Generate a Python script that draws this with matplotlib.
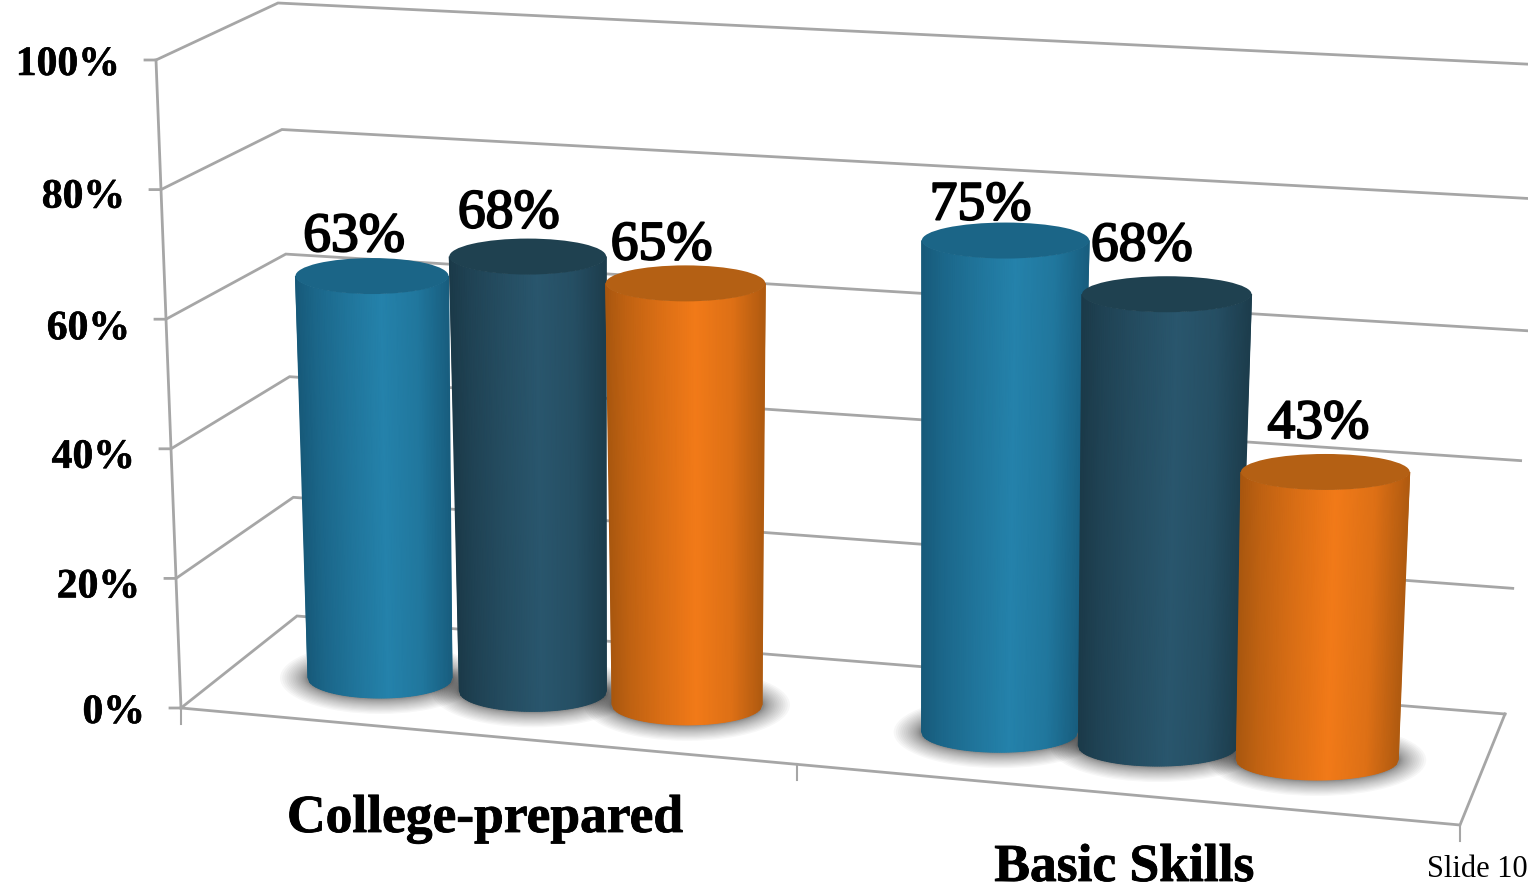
import numpy as np
import matplotlib
matplotlib.use("Agg")
import matplotlib.pyplot as plt
import matplotlib.patheffects as pe
from matplotlib.colors import LinearSegmentedColormap
from matplotlib.patches import Ellipse

categories = ["College-prepared", "Basic Skills"]
college_prepared = [63, 67.6, 65]
basic_skills = [74.6, 68, 43]
y_ticks = [0, 20, 40, 60, 80, 100]

# body highlight, body edge, cap colour for each of the three series
highlight = ["#2482AB", "#29566D", "#F27A18"]
edge = ["#175A7A", "#1B3A49", "#A9570F"]
cap = ["#1B6587", "#1F4150", "#B46014"]

GREY = "#A6A6A6"
SERIF = "Liberation Serif"

plt.rcParams["font.family"] = SERIF

# corners of the chart box in pixels, (depth, value): front is 0, back is 1
FRONT_0, FRONT_100 = (181, 709), (156, 61)
BACK_L0, BACK_L100 = (297, 617), (278, 4)
BACK_R0, BACK_R100 = (1505, 715), (1545, 66)
FRONT_R0 = (1460, 826)


def lerp(a, b, t):
    return (a[0] + (b[0] - a[0]) * t, a[1] + (b[1] - a[1]) * t)


def back_value(v):
    # the back wall is slightly squeezed towards the floor
    return v - 0.04 * v * (1 - v)


def base_x(slot):
    return 380 + 152.2 * slot + 0.67 * slot ** 2


def cylinder(x0, value):
    v = value / 100
    y0 = 679 + 0.0875 * (x0 - 380)
    r0 = 72 + 0.0095 * (x0 - 380)
    x1 = x0 + v * (-12.7 + 0.0334 * (x0 - 380))
    y1 = y0 - v * (638 + 0.034 * (x0 - 380))
    r1 = r0 * (1 + 0.1 * v)
    return x0, y0, r0, x1, y1, r1


fig = plt.figure(figsize=(15.28, 8.87), dpi=100)
ax = fig.add_axes([0, 0, 1, 1])
ax.set_xlim(0, 1528)
ax.set_ylim(887, 0)
ax.axis("off")

tick_label_dy = [5, 9, 9, 10, 8, 5]
tick_stroke = [pe.withStroke(linewidth=0.4, foreground="black")]

# walls and floor
for i, t in enumerate(y_ticks):
    v = t / 100
    front = lerp(FRONT_0, FRONT_100, v)
    back_l = lerp(BACK_L0, BACK_L100, back_value(v))
    back_r = lerp(BACK_R0, BACK_R100, back_value(v))
    ax.plot([front[0] - 11, front[0], back_l[0], back_r[0]],
            [front[1], front[1], back_l[1], back_r[1]],
            color=GREY, lw=2, solid_joinstyle="miter", zorder=1)
    ax.text(front[0] - 36, front[1] + tick_label_dy[i], f"{t}%", ha="right", va="center",
            fontsize=30, fontweight="bold", color="black", zorder=6, path_effects=tick_stroke)

ax.plot([FRONT_0[0], FRONT_100[0]], [FRONT_0[1], FRONT_100[1]], color=GREY, lw=2, zorder=1)
ax.plot([FRONT_0[0], FRONT_R0[0], BACK_R0[0]], [FRONT_0[1], FRONT_R0[1], BACK_R0[1]],
        color=GREY, lw=2, solid_joinstyle="miter", zorder=1)

# category ticks hang off the front edge, the middle one sits left of halfway (perspective)
for f in [0, 0.482, 1]:
    p = lerp(FRONT_0, FRONT_R0, f)
    ax.plot([p[0], p[0]], [p[1], p[1] + 16], color=GREY, lw=1.5, zorder=1)

groups = [college_prepared, basic_skills]
group_start = [0, 4]
label_dx = [[-18, -19, -24], [-25, -25, -7]]
label_dy = [[-39, -43, -38], [-35, -48, -48]]

# shadows go under every bar
for g, values in enumerate(groups):
    for s, value in enumerate(values):
        x0, y0, r0, x1, y1, r1 = cylinder(base_x(group_start[g] + s), value)
        for k in np.linspace(1, 0, 18) ** 1.5:
            ax.add_patch(Ellipse((x0, y0), 2 * (r0 + 2 + 26 * k), 2 * (21 + 15 * k),
                                 facecolor="black", edgecolor="none", alpha=0.032, zorder=2))

t = np.linspace(-1, 1, 91)
stops = [0, 0.12, 0.32, 0.56, 0.8, 1]
mix = [0.0, 0.3, 0.65, 1.0, 0.72, 0.1]

for g, values in enumerate(groups):
    for s, value in enumerate(values):
        x0, y0, r0, x1, y1, r1 = cylinder(base_x(group_start[g] + s), value)
        a = np.array(matplotlib.colors.to_rgb(edge[s]))
        b = np.array(matplotlib.colors.to_rgb(highlight[s]))
        cmap = LinearSegmentedColormap.from_list(
            f"bar{s}", [(p, tuple(a + (b - a) * m)) for p, m in zip(stops, mix)])
        arc = np.sqrt(1 - t ** 2)
        xx = np.vstack([x1 + r1 * t, x0 + r0 * t])
        yy = np.vstack([y1 + 18 * arc, y0 + 20 * arc])
        cc = np.vstack([(t + 1) / 2, (t + 1) / 2])
        z = 3 + (group_start[g] + s) * 0.1
        ax.pcolormesh(xx, yy, cc, cmap=cmap, shading="gouraud", vmin=0, vmax=1, zorder=z)
        ax.add_patch(Ellipse((x1, y1), 2 * r1, 36, facecolor=cap[s], edgecolor="none", zorder=z))
        ax.text(x1 + label_dx[g][s], y1 + label_dy[g][s], f"{value:.0f}%", ha="center", va="center",
                fontsize=40, color="black", zorder=7,
                path_effects=[pe.withStroke(linewidth=1.4, foreground="black")])

bold_stroke = [pe.withStroke(linewidth=0.6, foreground="black")]
ax.text(485, 820, categories[0], ha="center", va="center", fontsize=38.5, fontweight="bold",
        zorder=7, path_effects=bold_stroke)
ax.text(1124, 869, categories[1], ha="center", va="center", fontsize=38.5, fontweight="bold",
        zorder=7, path_effects=bold_stroke)
ax.text(1427, 870, "Slide 10", ha="left", va="center", fontsize=22, zorder=7, clip_on=True)

fig.savefig("out.png", dpi=100)
